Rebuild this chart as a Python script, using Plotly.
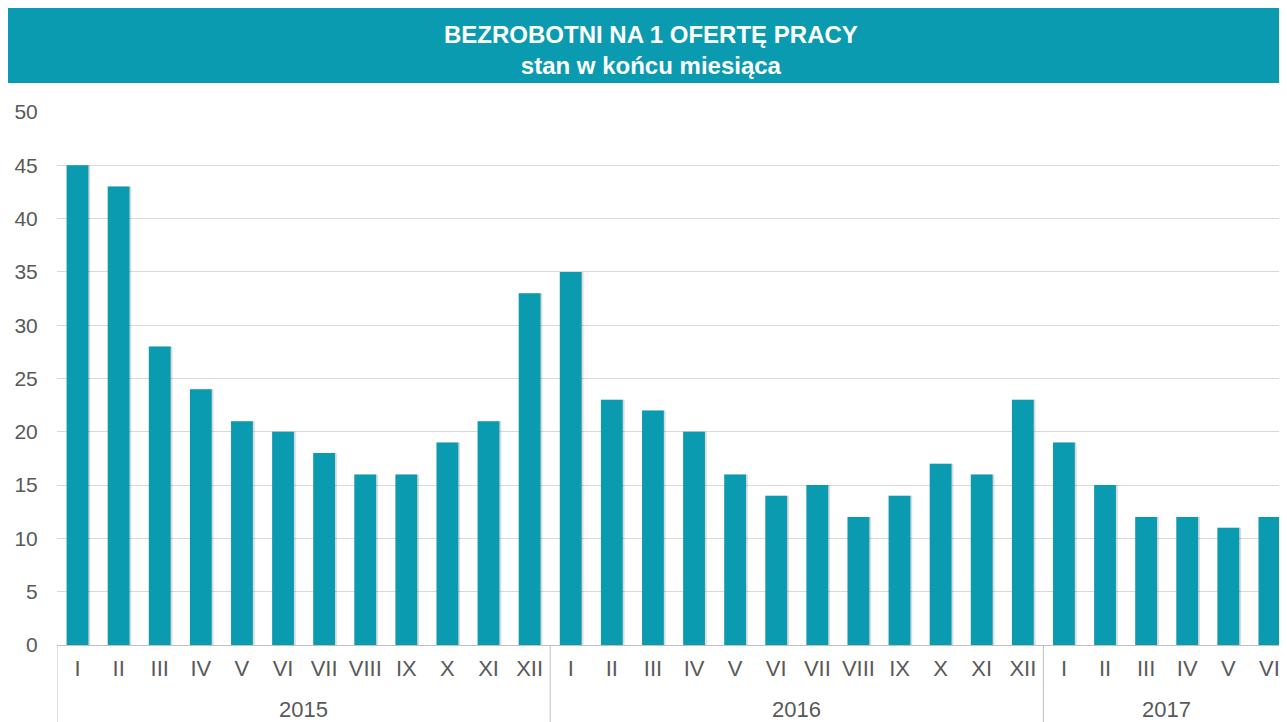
import plotly.graph_objects as go

years = ["2015"] * 12 + ["2016"] * 12 + ["2017"] * 6
months = ["I", "II", "III", "IV", "V", "VI", "VII", "VIII", "IX", "X", "XI", "XII"] * 2 + \
         ["I", "II", "III", "IV", "V", "VI"]
values = [45, 43, 28, 24, 21, 20, 18, 16, 16, 19, 21, 33,
          35, 23, 22, 20, 16, 14, 15, 12, 14, 17, 16, 23,
          19, 15, 12, 12, 11, 12]

W, H = 1279, 722
L, R, T, B = 49, 0, 104, 85
PW, PH = W - L - R, H - T - B
teal = "#0b9bb1"
grey = "#595959"
font_family = "Liberation Sans, Arial, sans-serif"
cat_px = 41.1  # pixel width of one month slot

idx = list(range(len(values)))

# group boundaries / centres from the years list
groups = []
start = 0
for i in range(1, len(years) + 1):
    if i == len(years) or years[i] != years[start]:
        groups.append((years[start], start, i - 1))
        start = i

def px_x(px):
    return (px - L) / PW

def px_y(py):
    return (H - B - py) / PH

fig = go.Figure()
fig.add_trace(go.Bar(x=idx, y=values, marker=dict(color="rgba(0,0,0,0.14)", line=dict(width=0)),
                     width=0.58, offset=-0.27, hoverinfo="skip", showlegend=False))
fig.add_trace(go.Bar(x=idx, y=values, marker=dict(color=teal, line=dict(width=0)),
                     width=0.53, offset=-0.265, showlegend=False))

shapes = [dict(type="rect", xref="paper", yref="paper",
               x0=px_x(0), x1=px_x(W + 10), y0=px_y(75), y1=px_y(0),
               fillcolor=teal, line=dict(width=0), layer="above")]
annotations = [dict(xref="paper", yref="paper", x=px_x(643), y=px_y(42),
                    text="<b>BEZROBOTNI NA 1 OFERTĘ PRACY</b><br><b>stan w końcu miesiąca</b>",
                    showarrow=False, font=dict(color="white", size=24, family=font_family),
                    align="center", xanchor="center", yanchor="middle")]
for name, a, b in groups:
    shapes.append(dict(type="line", xref="x", yref="paper", x0=a - 0.5, x1=a - 0.5,
                       y0=0, y1=px_y(H + 5), line=dict(color="#bfbfbf", width=1)))
    annotations.append(dict(xref="x", yref="paper", x=(a + b) / 2, y=px_y(701),
                            text=name, showarrow=False, xanchor="center", yanchor="middle",
                            font=dict(size=22, color=grey, family=font_family)))
last = groups[-1]
shapes.append(dict(type="line", xref="x", yref="paper", x0=last[2] + 0.5, x1=last[2] + 0.5,
                   y0=0, y1=px_y(H + 5), line=dict(color="#bfbfbf", width=1)))

fig.update_layout(
    width=W, height=H,
    margin=dict(l=L, r=R, t=T, b=B),
    paper_bgcolor="white", plot_bgcolor="white",
    barmode="overlay",
    font=dict(family=font_family, size=20, color=grey),
    shapes=shapes,
    annotations=annotations,
)
fig.update_xaxes(range=[-0.5, -0.5 + PW / cat_px], tickmode="array", tickvals=idx, ticktext=months,
                 showline=True, linecolor="#bfbfbf", linewidth=1,
                 tickfont=dict(size=22, color=grey), ticks="outside", ticklen=4,
                 tickcolor="rgba(0,0,0,0)", showgrid=False, zeroline=False)
fig.update_yaxes(range=[0, 50], dtick=5, showgrid=True, gridcolor="#d9d9d9", gridwidth=1,
                 zeroline=True, zerolinecolor="#bfbfbf", zerolinewidth=1,
                 tickfont=dict(size=21, color=grey), ticks="outside", ticklen=14,
                 tickcolor="rgba(0,0,0,0)")

fig.write_html("out.html")
